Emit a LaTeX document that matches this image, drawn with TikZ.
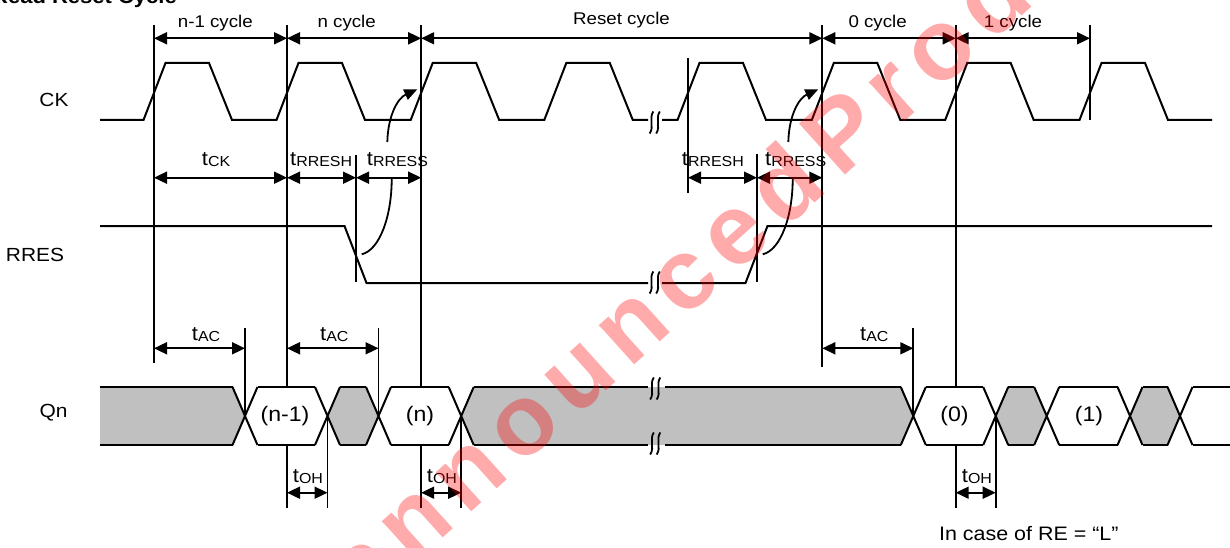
\documentclass[tikz,border=0pt]{standalone}
\usepackage{fontspec}
\setmainfont{Liberation Sans}[FakeStretch=1.1]
\newfontfamily\wmfont{Liberation Sans}[LetterSpace=12]
\usetikzlibrary{arrows.meta}
\newcommand{\tsb}[1]{\raisebox{-0.5pt}{\fontsize{14.5}{16}\selectfont #1}}
\newcommand{\brkm}[2]{\draw[brkmark] (#1+1.8,#2-11) .. controls (#1-3,#2-4) and (#1+3,#2+4) .. (#1-1.8,#2+11);}
\newcommand{\hexfill}[3]{\fill[#1] (#2,\qM) -- (#2+\hh,\qT) -- (#3-\hh,\qT) -- (#3,\qM) -- (#3-\hh,\qB) -- (#2+\hh,\qB) -- cycle;}
\newcommand{\xing}[1]{\draw[sig] (#1-\hh,\qT) -- (#1+\hh,\qB) (#1-\hh,\qB) -- (#1+\hh,\qT);}
\definecolor{qgray}{RGB}{192,192,192}
\begin{document}
\begin{tikzpicture}[x=1pt,y=-1pt,
  sig/.style={line width=2pt},
  mk/.style={line width=1.8pt},
  dim/.style={line width=1.8pt,{Triangle[length=13pt,width=12pt]}-{Triangle[length=13pt,width=12pt]}},
  sgl/.style={font=\fontsize{19}{22}\selectfont},
  cyc/.style={font=\fontsize{17}{20}\selectfont,anchor=base,inner sep=0pt},
  tlab/.style={font=\fontsize{20}{22}\selectfont,anchor=base west,inner sep=0pt},
  val/.style={font=\fontsize{21}{24}\selectfont},
  brkmark/.style={line width=1.8pt},
]
\useasboundingbox (0,0) rectangle (1230,548);
\def\mA{154}\def\mB{287}\def\mC{421.2}\def\mD{554.8}\def\mE{688}\def\mF{822.3}\def\mG{955.7}\def\mH{1090}
\def\qT{387}\def\qB{445}\def\qM{416}\def\hh{12.5}
\def\cA{245}\def\cB{327.5}\def\cC{378.5}\def\cD{461.2}\def\cE{913.3}\def\cF{995.7}\def\cG{1046.7}\def\cH{1130}\def\cI{1180}

% title (clipped at the top)
\node[font=\bfseries\fontsize{20}{22}\selectfont,anchor=base west,inner sep=0pt] (title) at (-8,4) {Read Reset Cycle};

% signal names
\node[sgl] (ck) at (54,100) {CK};
\node[sgl] (rres) at (35,255) {RRES};
\node[sgl] (qn) at (53.5,413) {Qn};

% marker lines
\draw[mk] (\mA,25) -- (\mA,363);
\draw[mk] (\mB,25) -- (\mB,508);
\draw[mk] (\mC,25) -- (\mC,508);
\draw[mk] (\mE,58) -- (\mE,193);
\draw[mk] (\mF,25) -- (\mF,367);
\draw[mk] (\mG,25) -- (\mG,508);
\draw[mk] (\mH,25) -- (\mH,120);
\draw[mk] (\mB+69,155) -- (\mB+69,282);
\draw[mk] (\mE+69,154) -- (\mE+69,282);

% CK
\draw[sig] (100,120) foreach \m in {\mA,\mB,\mC,\mD} { -- (\m-10.5,120) -- (\m+11.5,63) -- (\m+55,63) -- (\m+78,120) } -- (648,120);
\draw[sig] (662,120) foreach \m in {\mE,\mF,\mG,\mH} { -- (\m-10.5,120) -- (\m+11.5,63) -- (\m+55,63) -- (\m+78,120) } -- (1212,120);
\brkm{651.5}{122.5}\brkm{658}{122.5}

% RRES
\draw[sig] (100,226) -- (\mB+57.5,226) -- (\mB+79.5,283) -- (648,283);
\draw[sig] (662,283) -- (\mE+57.5,283) -- (\mE+79.5,226) -- (1212,226);
\brkm{651.5}{282.5}\brkm{658}{282.5}

% Qn fills
\fill[qgray] (100,\qT) -- (\cA-\hh,\qT) -- (\cA,\qM) -- (\cA-\hh,\qB) -- (100,\qB) -- cycle;
\hexfill{white}{\cA}{\cB}
\hexfill{qgray}{\cB}{\cC}
\hexfill{white}{\cC}{\cD}
\hexfill{qgray}{\cD}{\cE}
\hexfill{white}{\cE}{\cF}
\hexfill{qgray}{\cF}{\cG}
\hexfill{white}{\cG}{\cH}
\hexfill{qgray}{\cH}{\cI}
\fill[white] (\cI,\qM) -- (\cI+\hh,\qT) -- (1230,\qT) -- (1230,\qB) -- (\cI+\hh,\qB) -- cycle;
% Qn outlines
\foreach \y in {\qT,\qB}{
  \draw[sig] (100,\y) -- (\cA-\hh,\y);
  \draw[sig] (\cA+\hh,\y) -- (\cB-\hh,\y);
  \draw[sig] (\cB+\hh,\y) -- (\cC-\hh,\y);
  \draw[sig] (\cC+\hh,\y) -- (\cD-\hh,\y);
  \draw[sig] (\cD+\hh,\y) -- (648,\y);
  \draw[sig] (665,\y) -- (\cE-\hh,\y);
  \draw[sig] (\cE+\hh,\y) -- (\cF-\hh,\y);
  \draw[sig] (\cF+\hh,\y) -- (\cG-\hh,\y);
  \draw[sig] (\cG+\hh,\y) -- (\cH-\hh,\y);
  \draw[sig] (\cH+\hh,\y) -- (\cI-\hh,\y);
  \draw[sig] (\cI+\hh,\y) -- (1230,\y);
}
\xing{\cA}\xing{\cB}\xing{\cC}\xing{\cD}\xing{\cE}\xing{\cF}\xing{\cG}\xing{\cH}\xing{\cI}
\brkm{652}{388.5}\brkm{658.5}{388.5}
\brkm{652}{443.5}\brkm{658.5}{443.5}

% Qn values
\node[val] (v1) at (285,416) {(n-1)};
\node[val] (v2) at (420,416) {(n)};
\node[val] (v3) at (954.5,416) {(0)};
\node[val] (v4) at (1089,416) {(1)};

% tAC / tOH boundary lines
\draw[mk] (\cA,328) -- (\cA,\qM);
\draw[mk] (\cC,328) -- (\cC,\qM);
\draw[mk] (\cE,328) -- (\cE,\qM);
\draw[mk] (\cB,\qM) -- (\cB,508);
\draw[mk] (\cD,\qM) -- (\cD,508);
\draw[mk] (\cF,\qM) -- (\cF,508);

% cycle dimensions
\draw[dim] (\mA,38.3) -- (\mB,38.3);
\draw[dim] (\mB,38.3) -- (\mC,38.3);
\draw[dim] (\mC,38.3) -- (\mF,38.3);
\draw[dim] (\mF,38.3) -- (\mG,38.3);
\draw[dim] (\mG,38.3) -- (\mH,38.3);
\node[cyc] (l1) at (215.3,27.5) {n-1 cycle};
\node[cyc] (l2) at (346.7,27.5) {n cycle};
\node[cyc] (l3) at (621.5,25) {Reset cycle};
\node[cyc] (l4) at (877.6,27.5) {0 cycle};
\node[cyc] (l5) at (1013,27.5) {1 cycle};

% timing dimensions
\draw[dim] (\mA,177.7) -- (\mB,177.7);
\draw[dim] (\mB,177.7) -- (\mB+69,177.7);
\draw[dim] (\mB+69,177.7) -- (\mC,177.7);
\draw[dim] (\mE,177.7) -- (\mE+69,177.7);
\draw[dim] (\mE+69,177.7) -- (\mF,177.7);
\node[tlab] (tck) at (201.7,166) {t\tsb{CK}};
\node[tlab] (th1) at (290,166) {t\tsb{RRESH}};
\node[tlab] (ts1) at (366.7,166) {t\tsb{RRESS}};
\node[tlab] (th2) at (681.7,166) {t\tsb{RRESH}};
\node[tlab] (ts2) at (765,166) {t\tsb{RRESS}};

\draw[dim] (\mA,348.3) -- (\cA,348.3);
\draw[dim] (\mB,348.3) -- (\cC,348.3);
\draw[dim] (\mF,348.3) -- (\cE,348.3);
\node[tlab] (ta1) at (191.7,340.7) {t\tsb{AC}};
\node[tlab] (ta2) at (320,340.7) {t\tsb{AC}};
\node[tlab] (ta3) at (860,340.7) {t\tsb{AC}};

\draw[dim] (\mB,492.7) -- (\cB,492.7);
\draw[dim] (\mC,492.7) -- (\cD,492.7);
\draw[dim] (\mG,492.7) -- (\cF,492.7);
\node[tlab] (to1) at (292.7,482.7) {t\tsb{OH}};
\node[tlab] (to2) at (426.7,482.7) {t\tsb{OH}};
\node[tlab] (to3) at (961.7,482.7) {t\tsb{OH}};

% setup curves
\foreach \m in {\mB,\mE}{
  \draw[mk,-{Triangle[length=13pt,width=11pt]}] (\m+100.3,142) .. controls (\m+101,115) and (\m+111,98) .. (\m+130.3,89.3);
  \draw[mk] (\m+104.7,177.7) .. controls (\m+105,215) and (\m+93,250) .. (\m+74.7,254.3);
}

\node[font=\fontsize{19.5}{22}\selectfont,anchor=base] (note) at (1028.8,540) {In case of RE = “L”};

% watermark
\node[font=\wmfont\bfseries\fontsize{100}{100}\selectfont,text=red,text opacity=0.33,rotate=42,anchor=base west,inner sep=0pt] (wm) at (245,716) {Unannounced\kern-25pt{} Product};
\end{tikzpicture}
\end{document}
